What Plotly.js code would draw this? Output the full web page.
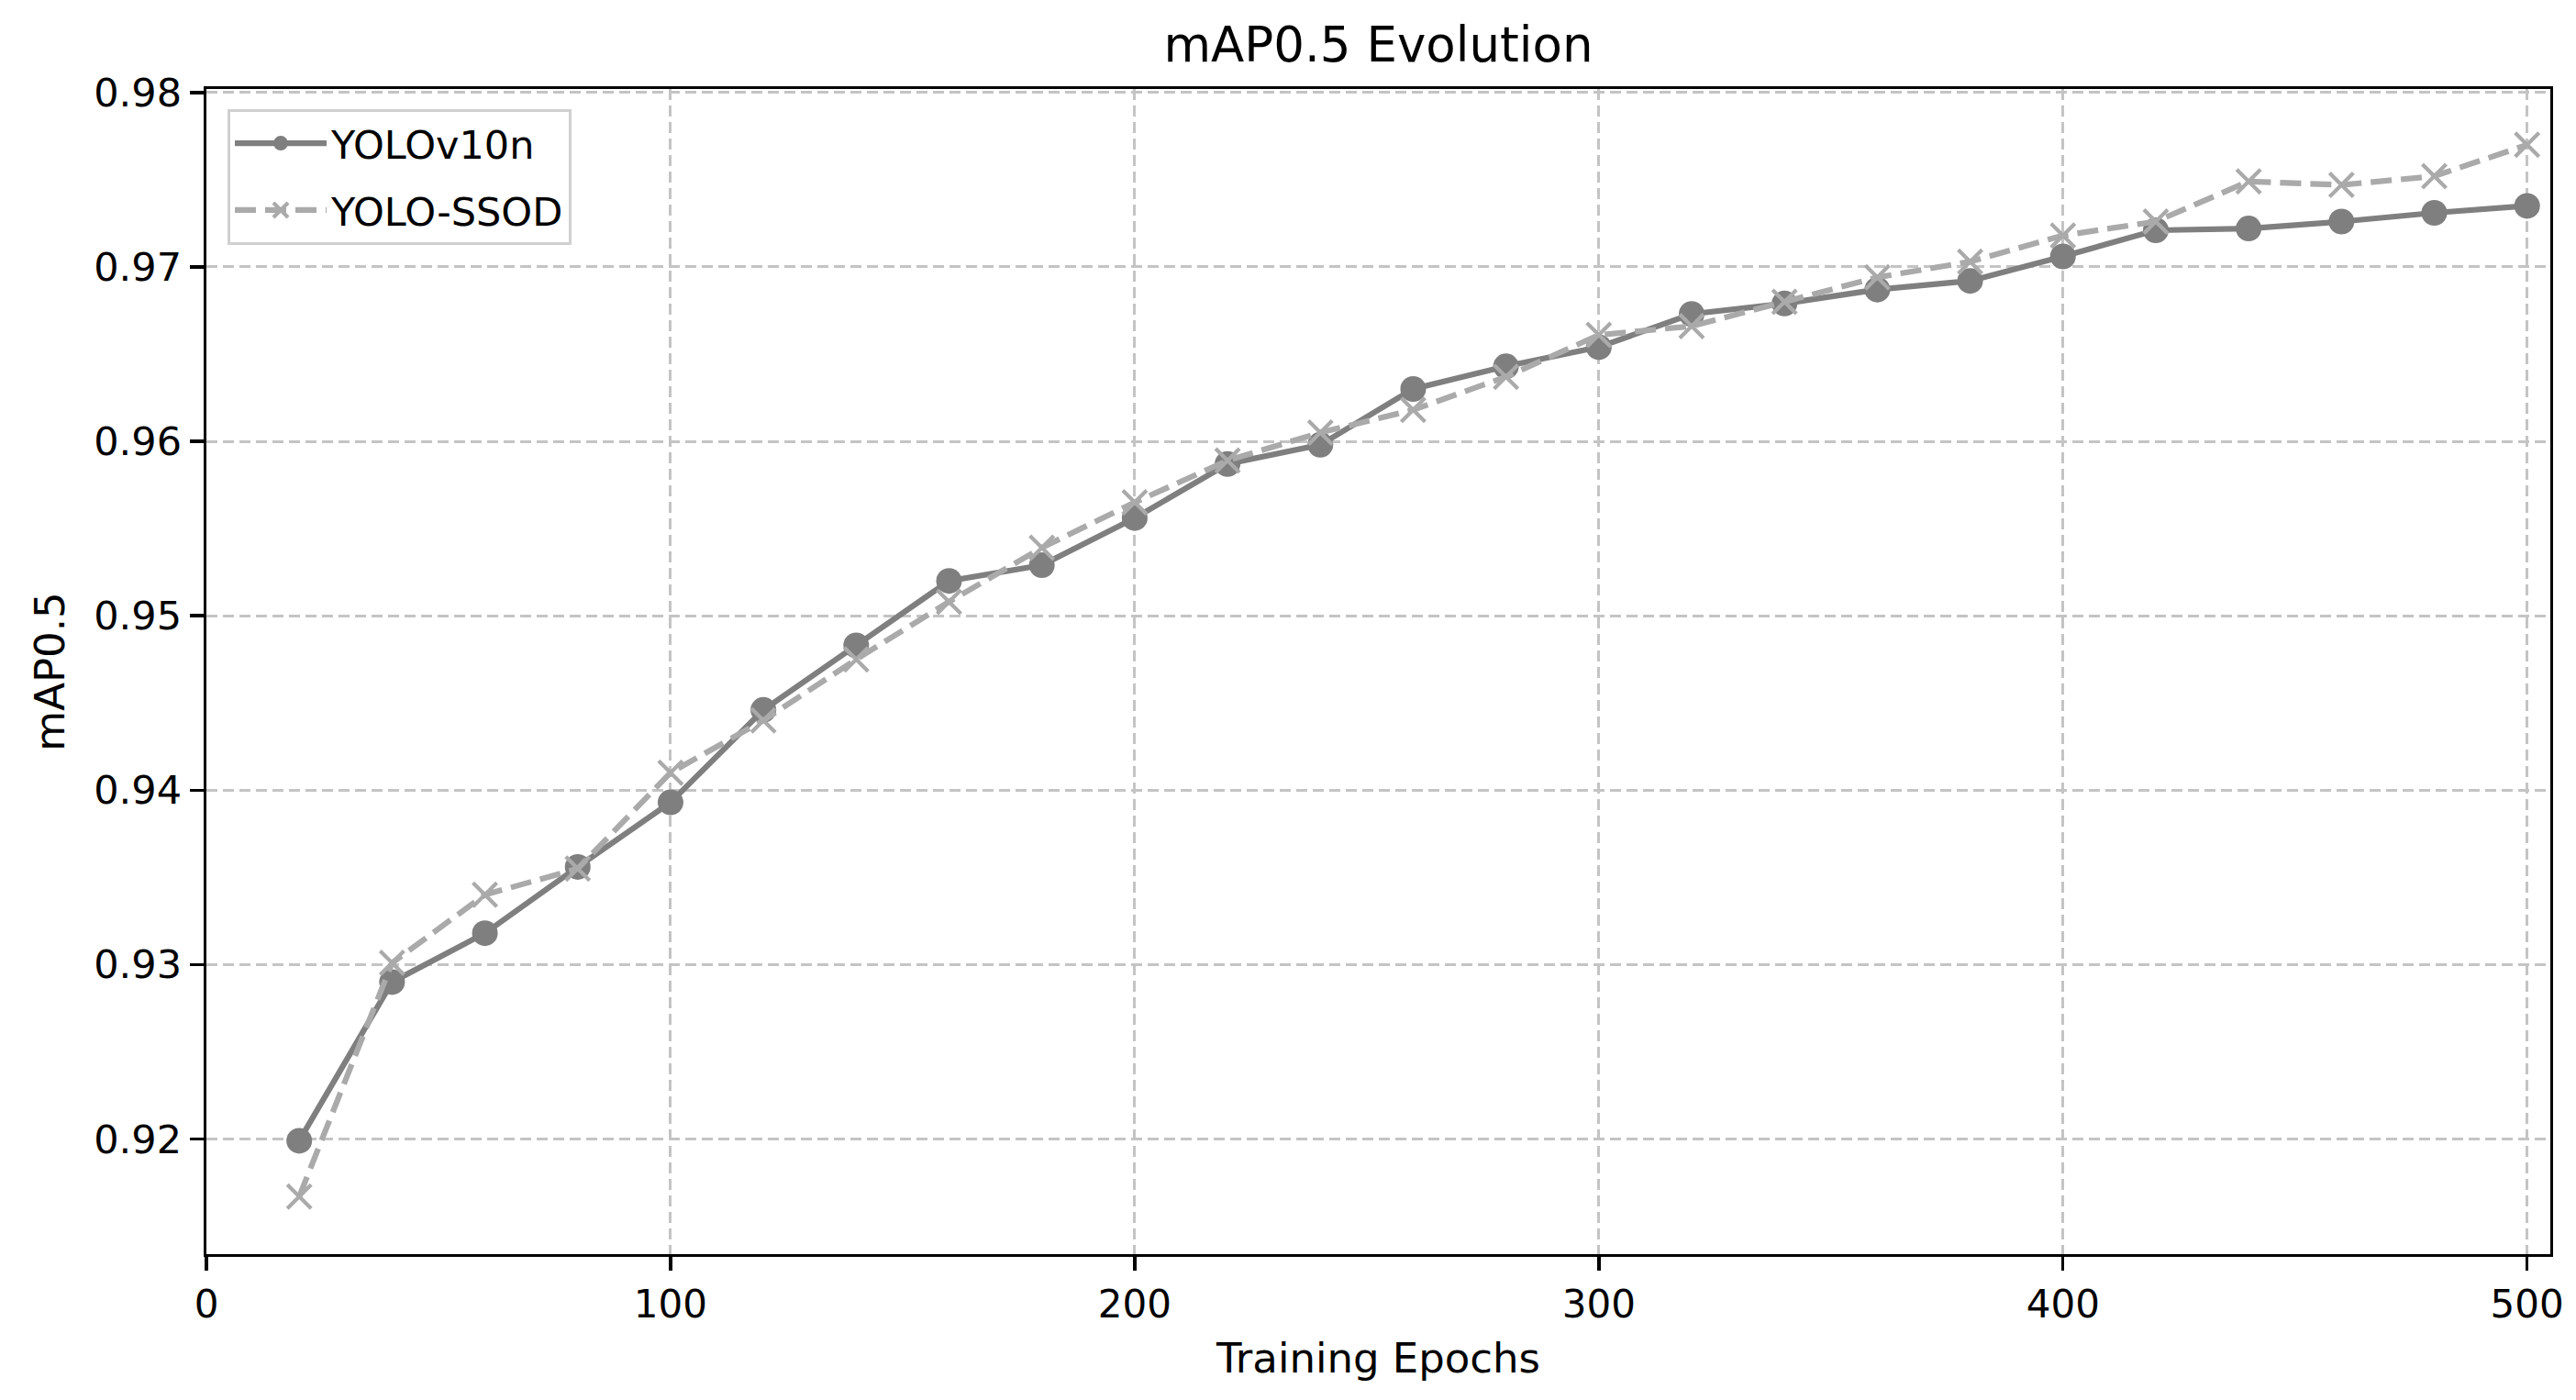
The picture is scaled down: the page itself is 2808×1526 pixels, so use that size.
<!DOCTYPE html>
<html>
<head>
<meta charset="utf-8">
<script src="https://cdn.plot.ly/plotly-3.0.1.min.js"></script>
<style>
html, body { margin: 0; padding: 0; background: #ffffff; }
#chart { width: 2808px; height: 1526px; }
</style>
</head>
<body>
<div id="chart"></div>
<script>
const epochs = [20, 40, 60, 80, 100, 120, 140, 160, 180, 200, 220, 240, 260, 280, 300, 320, 340, 360, 380, 400, 420, 440, 460, 480, 500];
const yolov10n = [0.9199, 0.9290, 0.9318, 0.9356, 0.9393, 0.9446, 0.9483, 0.9520, 0.9529, 0.9556, 0.9587, 0.9598, 0.9630, 0.9643, 0.9654, 0.9673, 0.9679, 0.9687, 0.9692, 0.9706, 0.9721, 0.9722, 0.9726, 0.9731, 0.9735];
const yoloSSOD = [0.9167, 0.9301, 0.9340, 0.9355, 0.9410, 0.9440, 0.9475, 0.9508, 0.9539, 0.9565, 0.9589, 0.9605, 0.9618, 0.9637, 0.9661, 0.9666, 0.9680, 0.9694, 0.9703, 0.9718, 0.9726, 0.9749, 0.9747, 0.9752, 0.9770];
const xTicks = [0, 100, 200, 300, 400, 500];
const yTicks = [0.92, 0.93, 0.94, 0.95, 0.96, 0.97, 0.98];
const yTickLabels = ['0.92', '0.93', '0.94', '0.95', '0.96', '0.97', '0.98'];
const seriesNames = ['YOLOv10n', 'YOLO-SSOD'];

const FONT = 'DejaVu Sans, sans-serif';

const traces = [
  {
    x: epochs, y: yolov10n, name: seriesNames[0], legendgroup: 'a',
    type: 'scatter', mode: 'lines+markers',
    line: { color: '#7f7f7f', width: 6.2, dash: 'solid' },
    marker: { symbol: 'circle', size: 28, color: '#7f7f7f', line: { width: 0 } }
  },
  {
    x: epochs, y: yoloSSOD, name: seriesNames[1], legendgroup: 'b',
    type: 'scatter', mode: 'lines+markers',
    line: { color: '#aaaaaa', width: 6.2, dash: '23px,10px' },
    marker: { symbol: 'x-thin-open', size: 26, color: '#aaaaaa', line: { color: '#aaaaaa', width: 4.2 } }
  }
];

const layout = {
  width: 2808, height: 1526,
  paper_bgcolor: '#ffffff', plot_bgcolor: '#ffffff',
  margin: { l: 225, r: 28, t: 97, b: 159, pad: 0 },
  font: { family: FONT, color: '#000000', size: 42 },
  title: {
    text: 'mAP0.5 Evolution',
    font: { family: FONT, size: 53, color: '#000000' },
    x: 0.5, xanchor: 'center', xref: 'paper',
    y: 1526 - 50, yref: 'container', yanchor: 'middle'
  },
  showlegend: true,
  legend: {
    x: 0.009, y: 0.983, xanchor: 'left', yanchor: 'top',
    bgcolor: 'rgba(255,255,255,0.85)', bordercolor: '#d0d0d0', borderwidth: 3,
    font: { family: FONT, size: 43, color: '#000000' },
    itemwidth: 100, traceorder: 'grouped', tracegroupgap: 14
  },
  xaxis: {
    range: [0, 505], tickmode: 'array', tickvals: xTicks,
    ticks: 'outside', ticklen: 15, tickwidth: 3.4, tickcolor: '#000000',
    showline: true, linecolor: '#000000', linewidth: 3.4, mirror: true,
    showgrid: true, gridcolor: '#c4c4c4', gridwidth: 3, griddash: '12px,6px',
    zeroline: false,
    tickfont: { family: FONT, size: 42, color: '#000000' },
    title: { text: 'Training Epochs', font: { family: FONT, size: 45, color: '#000000' }, standoff: 20 }
  },
  yaxis: {
    range: [0.9134, 0.9802], tickmode: 'array', tickvals: yTicks, ticktext: yTickLabels,
    ticks: 'outside', ticklen: 15, tickwidth: 3.4, tickcolor: '#000000',
    showline: true, linecolor: '#000000', linewidth: 3.4, mirror: true,
    showgrid: true, gridcolor: '#c4c4c4', gridwidth: 3, griddash: '12px,6px',
    zeroline: false,
    tickfont: { family: FONT, size: 43, color: '#000000' },
    title: { text: 'mAP0.5', font: { family: FONT, size: 45, color: '#000000' }, standoff: 18 }
  }
};

Plotly.newPlot('chart', traces, layout, { staticPlot: true, displayModeBar: false });
</script>
</body>
</html>
